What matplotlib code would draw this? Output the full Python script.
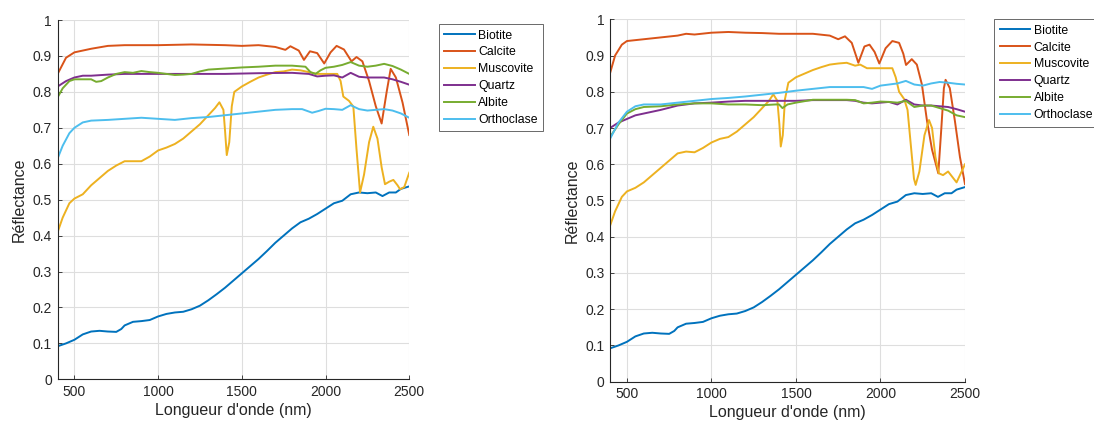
import matplotlib
matplotlib.use("Agg")
import matplotlib.pyplot as plt
from matplotlib.ticker import FixedLocator, FuncFormatter

plt.rcParams['font.family'] = ['Liberation Sans', 'DejaVu Sans']

names = ["Biotite", "Calcite", "Muscovite", "Quartz", "Albite", "Orthoclase"]
colors = ["#0072BD", "#D95319", "#EDB120", "#7E2F8E", "#77AC30", "#4DBEEE"]

# ---- Biotite (same in both panels)
bio_x = [400, 450, 500, 550, 600, 650, 700, 750, 780, 800, 850, 900, 950, 1000, 1050, 1100,
         1150, 1200, 1250, 1300, 1350, 1400, 1450, 1500, 1550, 1600, 1650, 1700, 1750, 1800,
         1850, 1900, 1950, 2000, 2050, 2100, 2150, 2200, 2250, 2300, 2340, 2380, 2420, 2450, 2500]
bio_y = [0.092, 0.100, 0.110, 0.125, 0.133, 0.135, 0.133, 0.132, 0.140, 0.150, 0.160, 0.162,
         0.165, 0.175, 0.182, 0.186, 0.188, 0.195, 0.205, 0.220, 0.237, 0.255, 0.275, 0.295,
         0.315, 0.335, 0.357, 0.380, 0.400, 0.420, 0.437, 0.447, 0.460, 0.475, 0.490, 0.497,
         0.515, 0.520, 0.518, 0.520, 0.510, 0.520, 0.520, 0.530, 0.537]

# ---- Left panel
cal1_x = [400, 450, 500, 550, 600, 700, 800, 1000, 1200, 1400, 1500, 1600, 1700, 1760, 1790,
          1840, 1871, 1907, 1950, 1992, 2030, 2066, 2110, 2155, 2185, 2220, 2260, 2300, 2335,
          2365, 2389, 2420, 2460, 2500]
cal1_y = [0.850, 0.895, 0.910, 0.915, 0.920, 0.928, 0.930, 0.930, 0.932, 0.930, 0.928, 0.930,
          0.925, 0.917, 0.927, 0.915, 0.889, 0.913, 0.908, 0.879, 0.910, 0.928, 0.918, 0.885,
          0.897, 0.885, 0.830, 0.760, 0.712, 0.800, 0.864, 0.840, 0.770, 0.680]

mus1_x = [400, 430, 470, 500, 550, 600, 650, 700, 750, 800, 850, 900, 950, 1000, 1050, 1100,
          1150, 1200, 1250, 1300, 1340, 1366, 1390, 1400, 1410, 1425, 1440, 1455, 1500, 1550,
          1600, 1650, 1700, 1750, 1800, 1850, 1900, 1950, 2000, 2070, 2090, 2106, 2140, 2166,
          2185, 2206, 2230, 2260, 2285, 2310, 2335, 2355, 2380, 2405, 2430, 2445, 2470, 2500]
mus1_y = [0.410, 0.450, 0.490, 0.503, 0.515, 0.540, 0.560, 0.580, 0.595, 0.607, 0.607, 0.607,
          0.620, 0.637, 0.645, 0.655, 0.670, 0.690, 0.710, 0.735, 0.755, 0.771, 0.750, 0.690,
          0.624, 0.660, 0.760, 0.800, 0.815, 0.828, 0.840, 0.848, 0.855, 0.857, 0.862, 0.860,
          0.855, 0.850, 0.850, 0.850, 0.830, 0.787, 0.775, 0.759, 0.640, 0.520, 0.570, 0.660,
          0.703, 0.670, 0.590, 0.543, 0.550, 0.555, 0.540, 0.529, 0.535, 0.575]

qtz1_x = [400, 450, 500, 550, 600, 700, 800, 1000, 1200, 1400, 1600, 1800, 1900, 1950, 2000,
          2050, 2100, 2150, 2200, 2250, 2300, 2350, 2400, 2450, 2500]
qtz1_y = [0.815, 0.830, 0.840, 0.845, 0.845, 0.848, 0.850, 0.850, 0.850, 0.850, 0.852, 0.853,
          0.850, 0.843, 0.845, 0.846, 0.840, 0.853, 0.842, 0.840, 0.840, 0.840, 0.835, 0.828, 0.820]

alb1_x = [400, 430, 470, 500, 550, 600, 630, 660, 700, 750, 800, 850, 900, 950, 1000, 1050,
          1100, 1150, 1200, 1250, 1300, 1400, 1500, 1600, 1700, 1800, 1880, 1910, 1940, 1970,
          2000, 2050, 2100, 2150, 2200, 2250, 2300, 2350, 2400, 2450, 2500]
alb1_y = [0.785, 0.810, 0.830, 0.835, 0.835, 0.835, 0.828, 0.830, 0.840, 0.850, 0.855, 0.853,
          0.858, 0.855, 0.853, 0.850, 0.847, 0.848, 0.850, 0.857, 0.862, 0.865, 0.868, 0.870,
          0.873, 0.873, 0.870, 0.855, 0.850, 0.860, 0.867, 0.870, 0.875, 0.883, 0.873, 0.870,
          0.873, 0.878, 0.872, 0.862, 0.850]

ort1_x = [400, 430, 470, 500, 550, 600, 700, 800, 900, 1000, 1100, 1200, 1300, 1400, 1500,
          1600, 1700, 1800, 1860, 1920, 1960, 2000, 2050, 2100, 2150, 2200, 2250, 2300, 2350,
          2400, 2450, 2500]
ort1_y = [0.615, 0.650, 0.685, 0.700, 0.715, 0.720, 0.722, 0.725, 0.728, 0.725, 0.722, 0.727,
          0.730, 0.735, 0.740, 0.745, 0.750, 0.752, 0.752, 0.742, 0.747, 0.753, 0.752, 0.750,
          0.763, 0.752, 0.748, 0.750, 0.752, 0.748, 0.740, 0.728]

# ---- Right panel
cal2_x = [400, 430, 470, 500, 600, 700, 800, 850, 900, 1000, 1100, 1200, 1300, 1400, 1500,
          1600, 1700, 1750, 1790, 1830, 1855, 1869, 1905, 1935, 1965, 1993, 2030, 2070, 2110,
          2135, 2151, 2185, 2215, 2245, 2275, 2305, 2342, 2360, 2375, 2385, 2410, 2440, 2470, 2500]
cal2_y = [0.851, 0.900, 0.930, 0.940, 0.945, 0.950, 0.955, 0.960, 0.958, 0.963, 0.965, 0.963,
          0.962, 0.960, 0.960, 0.960, 0.955, 0.945, 0.953, 0.935, 0.900, 0.880, 0.925, 0.930,
          0.910, 0.878, 0.920, 0.940, 0.935, 0.905, 0.874, 0.890, 0.875, 0.820, 0.720, 0.640,
          0.575, 0.700, 0.810, 0.833, 0.810, 0.720, 0.620, 0.545]

mus2_x = [400, 430, 470, 500, 550, 600, 650, 700, 750, 800, 850, 900, 950, 1000, 1050, 1100,
          1150, 1200, 1250, 1300, 1340, 1366, 1390, 1402, 1410, 1422, 1435, 1455, 1500, 1550,
          1600, 1650, 1700, 1750, 1800, 1850, 1880, 1920, 1950, 2000, 2070, 2090, 2110, 2140,
          2160, 2180, 2198, 2208, 2230, 2260, 2287, 2305, 2325, 2345, 2370, 2400, 2425, 2450,
          2475, 2500]
mus2_y = [0.430, 0.470, 0.510, 0.525, 0.535, 0.550, 0.570, 0.590, 0.610, 0.630, 0.635, 0.633,
          0.645, 0.660, 0.670, 0.675, 0.690, 0.710, 0.730, 0.755, 0.775, 0.793, 0.775, 0.710,
          0.649, 0.680, 0.780, 0.825, 0.840, 0.850, 0.860, 0.868, 0.875, 0.878, 0.880, 0.872,
          0.875, 0.865, 0.865, 0.865, 0.865, 0.840, 0.800, 0.780, 0.750, 0.650, 0.560, 0.543,
          0.580, 0.680, 0.722, 0.700, 0.620, 0.575, 0.570, 0.580, 0.565, 0.550, 0.575, 0.600]

qtz2_x = [400, 450, 500, 550, 600, 700, 800, 900, 1000, 1100, 1200, 1300, 1400, 1500, 1600,
          1700, 1800, 1850, 1900, 1950, 2000, 2050, 2100, 2150, 2200, 2250, 2300, 2350, 2400,
          2450, 2500]
qtz2_y = [0.700, 0.715, 0.725, 0.735, 0.740, 0.750, 0.762, 0.768, 0.770, 0.773, 0.775, 0.775,
          0.775, 0.775, 0.777, 0.777, 0.777, 0.775, 0.770, 0.768, 0.770, 0.772, 0.765, 0.778,
          0.765, 0.762, 0.762, 0.760, 0.758, 0.752, 0.745]

alb2_x = [400, 450, 500, 550, 600, 700, 800, 900, 1000, 1100, 1200, 1300, 1380, 1400, 1420,
          1450, 1500, 1600, 1700, 1800, 1850, 1900, 1950, 2000, 2050, 2100, 2150, 2200, 2250,
          2300, 2350, 2400, 2450, 2500]
alb2_y = [0.675, 0.710, 0.740, 0.752, 0.758, 0.760, 0.765, 0.768, 0.768, 0.765, 0.765, 0.763,
          0.765, 0.765, 0.755, 0.765, 0.770, 0.778, 0.778, 0.778, 0.777, 0.768, 0.770, 0.773,
          0.772, 0.770, 0.775, 0.758, 0.762, 0.762, 0.755, 0.748, 0.735, 0.730]

ort2_x = [400, 450, 500, 550, 600, 700, 800, 900, 1000, 1100, 1200, 1300, 1400, 1500, 1600,
          1700, 1800, 1900, 1950, 2000, 2100, 2150, 2200, 2250, 2300, 2350, 2400, 2450, 2500]
ort2_y = [0.670, 0.715, 0.745, 0.760, 0.765, 0.765, 0.770, 0.775, 0.780, 0.783, 0.787, 0.792,
          0.797, 0.803, 0.808, 0.813, 0.813, 0.813, 0.808, 0.817, 0.823, 0.830, 0.820, 0.817,
          0.823, 0.827, 0.825, 0.822, 0.820]

left_series = [(bio_x, bio_y), (cal1_x, cal1_y), (mus1_x, mus1_y),
               (qtz1_x, qtz1_y), (alb1_x, alb1_y), (ort1_x, ort1_y)]
right_series = [(bio_x, bio_y), (cal2_x, cal2_y), (mus2_x, mus2_y),
                (qtz2_x, qtz2_y), (alb2_x, alb2_y), (ort2_x, ort2_y)]

xticks = [500, 1000, 1500, 2000, 2500]
yticks = [0, 0.1, 0.2, 0.3, 0.4, 0.5, 0.6, 0.7, 0.8, 0.9, 1]

fig = plt.figure(figsize=(10.94, 4.25), dpi=100)
ax1 = fig.add_axes([0.0527, 0.1075, 0.3214, 0.8454])
ax2 = fig.add_axes([0.5576, 0.1019, 0.3245, 0.8527])

tick_col = "#262626"

def style(ax, series, leg_anchor):
    for (x, y), c, n in zip(series, colors, names):
        ax.plot(x, y, color=c, lw=1.4, label=n)
    ax.set_xlim(400, 2500)
    ax.set_ylim(0, 1)
    ax.xaxis.set_major_locator(FixedLocator(xticks))
    ax.yaxis.set_major_locator(FixedLocator(yticks))
    ax.yaxis.set_major_formatter(FuncFormatter(lambda v, p: f"{v:g}"))
    ax.grid(True, color="#dedede", lw=0.8)
    ax.set_axisbelow(True)
    for s in ["top", "right"]:
        ax.spines[s].set_visible(False)
    for s in ["left", "bottom"]:
        ax.spines[s].set_color(tick_col)
        ax.spines[s].set_linewidth(0.8)
    ax.tick_params(direction="in", length=3, width=0.6, colors=tick_col,
                   labelsize=10, pad=4)
    ax.set_xlabel("Longueur d'onde (nm)", fontsize=11.5, color=tick_col, labelpad=3)
    ax.set_ylabel("Réflectance", fontsize=11.5, color=tick_col, labelpad=4)
    leg = ax.legend(loc="upper left", bbox_to_anchor=leg_anchor,
                    bbox_transform=fig.transFigure, fontsize=8.8,
                    frameon=True, fancybox=False, edgecolor="#262626",
                    borderpad=0.45, labelspacing=0.4, handlelength=2.5,
                    handletextpad=0.3, borderaxespad=0)
    leg.get_frame().set_linewidth(0.6)

style(ax1, left_series, (0.401, 0.9435))
style(ax2, right_series, (0.9086, 0.955))

fig.savefig("out.png", dpi=100)
